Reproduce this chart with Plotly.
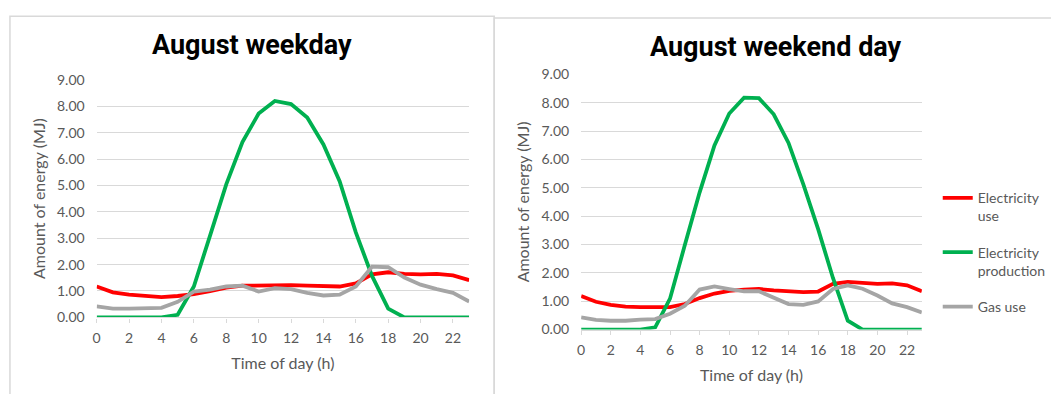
import plotly.graph_objects as go

W, H = 1051, 394

hours = list(range(24))

# August weekday (MJ)
wk_elec_use = [1.17, 0.95, 0.86, 0.81, 0.77, 0.81, 0.88, 0.99, 1.13, 1.20, 1.21, 1.22,
               1.22, 1.20, 1.17, 1.17, 1.29, 1.63, 1.71, 1.65, 1.63, 1.65, 1.59, 1.41]
wk_elec_prod = [0, 0, 0, 0, 0, 0.10, 1.17, 3.10, 5.04, 6.64, 7.72, 8.20,
                8.08, 7.57, 6.55, 5.16, 3.22, 1.57, 0.33, 0, 0, 0, 0, 0]
wk_gas_use = [0.42, 0.33, 0.33, 0.35, 0.36, 0.59, 0.98, 1.05, 1.17, 1.20, 0.98, 1.11,
              1.07, 0.93, 0.83, 0.86, 1.17, 1.92, 1.90, 1.51, 1.24, 1.07, 0.93, 0.60]

# August weekend day (MJ)
we_elec_use = [1.18, 0.98, 0.87, 0.81, 0.79, 0.78, 0.79, 0.90, 1.11, 1.27, 1.36, 1.41,
               1.43, 1.38, 1.34, 1.32, 1.34, 1.61, 1.68, 1.63, 1.61, 1.63, 1.56, 1.35]
we_elec_prod = [0, 0, 0, 0, 0, 0.08, 1.09, 2.98, 4.84, 6.49, 7.62, 8.18,
                8.16, 7.59, 6.58, 5.12, 3.54, 1.82, 0.31, 0, 0, 0, 0, 0]
we_gas_use = [0.43, 0.34, 0.31, 0.31, 0.35, 0.37, 0.56, 0.84, 1.41, 1.52, 1.43, 1.35,
              1.35, 1.12, 0.90, 0.87, 0.99, 1.43, 1.56, 1.44, 1.20, 0.92, 0.79, 0.60]

series_names = ["Electricity<br>use", "Electricity<br>production", "Gas use"]
series_colors = ["#ff0000", "#00b050", "#a5a5a5"]
titles = ["August weekday", "August weekend day"]
x_title = "Time of day (h)"
y_title = "Amount of energy (MJ)"

GRAY = "#595959"
GRID = "#d9d9d9"
FONT = "Lato"

fig = go.Figure()

panels = [
    ("x", "y", [wk_elec_use, wk_elec_prod, wk_gas_use], False),
    ("x2", "y2", [we_elec_use, we_elec_prod, we_gas_use], True),
]
for xa, ya, data, show in panels:
    for i, (name, color, vals) in enumerate(zip(series_names, series_colors, data)):
        fig.add_trace(go.Scatter(
            x=hours, y=vals, name=name, mode="lines",
            line=dict(color=color, width=3.8),
            xaxis=xa, yaxis=ya, showlegend=show,
            legendgroup=f"g{i}", cliponaxis=False,
        ))

def px(x):
    return x / W

def py(y):
    return 1 - y / H

tick_font = dict(family=FONT, size=14, color=GRAY)
title_font = dict(family=FONT, size=16, color=GRAY)

def xaxis_cfg(x0, x1, anchor):
    return dict(domain=[px(x0), px(x1)], range=[0, 23], dtick=2, tick0=0,
                showgrid=False, zeroline=False, ticks="outside", ticklen=4, tickcolor=GRID,
                showline=True, linecolor=GRID, linewidth=1.3,
                tickfont=tick_font, title=dict(text=x_title, standoff=12, font=title_font),
                anchor=anchor, ticklabelstandoff=4)

def yaxis_cfg(y_bottom, y_top, anchor):
    return dict(domain=[py(y_bottom), py(y_top)], range=[0, 9], dtick=1, tickformat=".2f",
                showgrid=True, gridcolor=GRID, gridwidth=1.3, zeroline=False, showline=False,
                ticks="", ticklabelstandoff=11, tickfont=tick_font,
                title=dict(text=y_title, standoff=7, font=title_font), anchor=anchor)

fig.update_layout(
    width=W, height=H,
    margin=dict(l=0, r=0, t=0, b=0),
    paper_bgcolor="white", plot_bgcolor="white",
    font=dict(family=FONT, color=GRAY),
    xaxis=xaxis_cfg(93.3, 468.3, "y"),
    yaxis=yaxis_cfg(322.3, 74, "x"),
    xaxis2=xaxis_cfg(581, 924, "y2"),
    yaxis2=yaxis_cfg(335, 68.3, "x2"),
    legend=dict(
        x=px(940), y=py(181), xanchor="left", yanchor="top",
        font=dict(family=FONT, size=14, color=GRAY),
        traceorder="grouped", tracegroupgap=15, valign="top",
        bgcolor="rgba(0,0,0,0)",
    ),
    showlegend=True,
)

# chart titles
for t, (cx, cy) in zip(titles, [(250, 38), (777.5, 40)]):
    fig.add_annotation(text="<b>" + t + "</b>", x=px(cx), y=py(cy),
                       xref="paper", yref="paper", showarrow=False,
                       xanchor="center", yanchor="middle",
                       font=dict(family="Roboto", size=27, color="black"))

# chart area borders
fig.add_shape(type="rect", xref="paper", yref="paper",
              x0=px(6), x1=px(493.5), y0=py(410), y1=py(7.5),
              line=dict(color=GRID, width=1.5), layer="below")
fig.add_shape(type="rect", xref="paper", yref="paper",
              x0=px(493.5), x1=px(1070), y0=py(410), y1=py(9.5),
              line=dict(color=GRID, width=1.5), layer="below")

fig.write_html("out.html",
               config={"displayModeBar": False},
               post_script="document.body.style.margin='0';document.body.style.overflow='hidden';")
